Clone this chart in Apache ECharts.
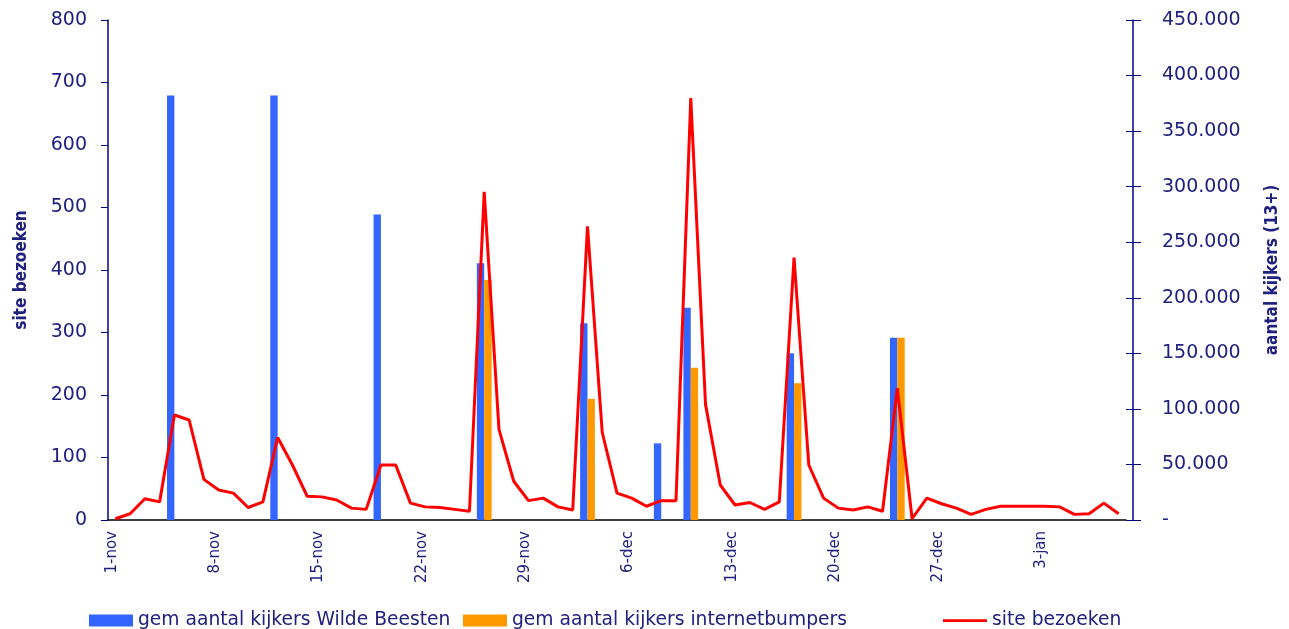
<!DOCTYPE html>
<html><head><meta charset="utf-8">
<script src="https://cdn.jsdelivr.net/npm/echarts@6/dist/echarts.min.js"></script>
<style>html,body{margin:0;padding:0;background:#fff}#c{width:1289px;height:629px}</style>
</head><body><div id="c"></div>
<script>
// Daily categories 1-nov .. 8-jan
const days = [
  '1-nov','2-nov','3-nov','4-nov','5-nov','6-nov','7-nov',
  '8-nov','9-nov','10-nov','11-nov','12-nov','13-nov','14-nov',
  '15-nov','16-nov','17-nov','18-nov','19-nov','20-nov','21-nov',
  '22-nov','23-nov','24-nov','25-nov','26-nov','27-nov','28-nov',
  '29-nov','30-nov','1-dec','2-dec','3-dec','4-dec','5-dec',
  '6-dec','7-dec','8-dec','9-dec','10-dec','11-dec','12-dec',
  '13-dec','14-dec','15-dec','16-dec','17-dec','18-dec','19-dec',
  '20-dec','21-dec','22-dec','23-dec','24-dec','25-dec','26-dec',
  '27-dec','28-dec','29-dec','30-dec','31-dec','1-jan','2-jan',
  '3-jan','4-jan','5-jan','6-jan','7-jan','8-jan'
];
const tickLabels = ['1-nov','8-nov','15-nov','22-nov','29-nov','6-dec','13-dec','20-dec','27-dec','3-jan'];

// gem aantal kijkers Wilde Beesten (right axis)
const wildeBeesten = [
  0,0,0,0,382000,0,0,
  0,0,0,0,382000,0,0,
  0,0,0,0,275000,0,0,
  0,0,0,0,231000,0,0,
  0,0,0,0,177000,0,0,
  0,0,69000,0,191000,0,0,
  0,0,0,0,150000,0,0,
  0,0,0,0,164000,0,0,
  0,0,0,0,0,0,0,
  0,0,0,0,0,0
];
// gem aantal kijkers internetbumpers (right axis)
const internetbumpers = [
  0,0,0,0,0,0,0,
  0,0,0,0,0,0,0,
  0,0,0,0,0,0,0,
  0,0,0,0,216000,0,0,
  0,0,0,0,109000,0,0,
  0,0,0,0,137000,0,0,
  0,0,0,0,123000,0,0,
  0,0,0,0,164000,0,0,
  0,0,0,0,0,0,0,
  0,0,0,0,0,0
];
// site bezoeken (left axis)
const siteBezoeken = [
  2,10,34,29,168,160,65,
  48,43,20,29,132,88,38,
  37,32,19,17,88,88,27,
  21,20,17,14,525,145,62,
  31,35,21,16,470,140,43,
  35,22,31,31,675,185,56,
  24,28,17,29,420,88,35,
  19,16,21,14,211,2,35,
  26,19,9,17,22,22,22,
  22,21,9,10,27,10
];

const seriesNames = ['gem aantal kijkers Wilde Beesten', 'gem aantal kijkers internetbumpers', 'site bezoeken'];
const navy = '#000080';
const txt = '#20207f';
const ff = 'DejaVu Sans';
const titleFont = "'DejaVu Sans Condensed', 'DejaVu Sans'";
const legendBase = {
  top: 606, itemWidth: 44, itemHeight: 12, symbolKeepAspect: true,
  textStyle: { color: txt, fontSize: 18.7, fontFamily: ff }
};
const chart = echarts.init(document.getElementById('c'));
chart.setOption({
  animation: false,
  backgroundColor: '#ffffff',
  grid: { left: 108, right: 161, top: 20, bottom: 109 },
  legend: [
    Object.assign({}, legendBase, { left: 84, data: [{ name: seriesNames[0], icon: 'rect' }] }),
    Object.assign({}, legendBase, { left: 458, data: [{ name: seriesNames[1], icon: 'rect' }] }),
    Object.assign({}, legendBase, { left: 938, data: [{ name: seriesNames[2], icon: 'path://M0,0L48,0L48,3L0,3Z' }] })
  ],
  xAxis: [
    {
      type: 'category', data: days, boundaryGap: true,
      axisLine: { lineStyle: { color: '#000', width: 1.5 } },
      axisTick: { interval: 0, length: 5, lineStyle: { color: '#000' } },
      axisLabel: { show: false }, splitLine: { show: false }
    },
    {
      type: 'value', position: 'bottom', min: 0, max: days.length, interval: 1,
      axisLine: { show: false }, axisTick: { show: false }, splitLine: { show: false },
      axisLabel: {
        rotate: 90, margin: 11, color: txt, fontSize: 15, fontFamily: ff,
        verticalAlign: 'top', lineHeight: 8,
        formatter: v => (v % 7 === 0 && tickLabels[v / 7]) ? tickLabels[v / 7] : ''
      }
    }
  ],
  yAxis: [
    {
      type: 'value', position: 'left', min: 0, max: 800, interval: 100,
      name: 'site bezoeken', nameLocation: 'middle', nameRotate: 90, nameGap: 78,
      nameTextStyle: { color: txt, fontSize: 17, fontWeight: 'bold', fontFamily: titleFont },
      axisLine: { show: true, lineStyle: { color: navy, width: 1.5 } },
      axisTick: { show: true, length: 7, lineStyle: { color: navy } },
      axisLabel: { margin: 21, color: txt, fontSize: 19, fontFamily: ff },
      splitLine: { show: false }
    },
    {
      type: 'value', position: 'right', offset: 7, min: 0, max: 450000, interval: 50000,
      name: 'aantal kijkers (13+)', nameLocation: 'middle', nameRotate: 90, nameGap: 131,
      nameTextStyle: { color: txt, fontSize: 17, fontWeight: 'bold', fontFamily: titleFont },
      axisLine: { show: true, lineStyle: { color: navy, width: 1.5 } },
      axisTick: { show: true, length: 8, lineStyle: { color: navy } },
      axisLabel: {
        margin: 29, color: txt, fontSize: 19, fontFamily: ff,
        formatter: v => v === 0 ? '-' : (v / 1000) + '.000'
      },
      splitLine: { show: false }
    },
    {
      type: 'value', position: 'right', offset: 7, min: 0, max: 450000, interval: 50000,
      axisLine: { show: false },
      axisTick: { show: true, inside: true, length: 7, lineStyle: { color: navy } },
      axisLabel: { show: false }, splitLine: { show: false }
    }
  ],
  series: [
    {
      name: seriesNames[0], type: 'bar', xAxisIndex: 0, yAxisIndex: 1,
      data: wildeBeesten, barGap: '0%', barCategoryGap: '0%',
      itemStyle: { color: '#3366ff' }
    },
    {
      name: seriesNames[1], type: 'bar', xAxisIndex: 0, yAxisIndex: 1,
      data: internetbumpers, barGap: '0%', barCategoryGap: '0%',
      itemStyle: { color: '#ff9900' }
    },
    {
      name: seriesNames[2], type: 'line', xAxisIndex: 0, yAxisIndex: 0,
      data: siteBezoeken, symbol: 'none', showSymbol: false,
      lineStyle: { color: '#ff0000', width: 3 }, itemStyle: { color: '#ff0000' }
    }
  ]
});
</script></body></html>
